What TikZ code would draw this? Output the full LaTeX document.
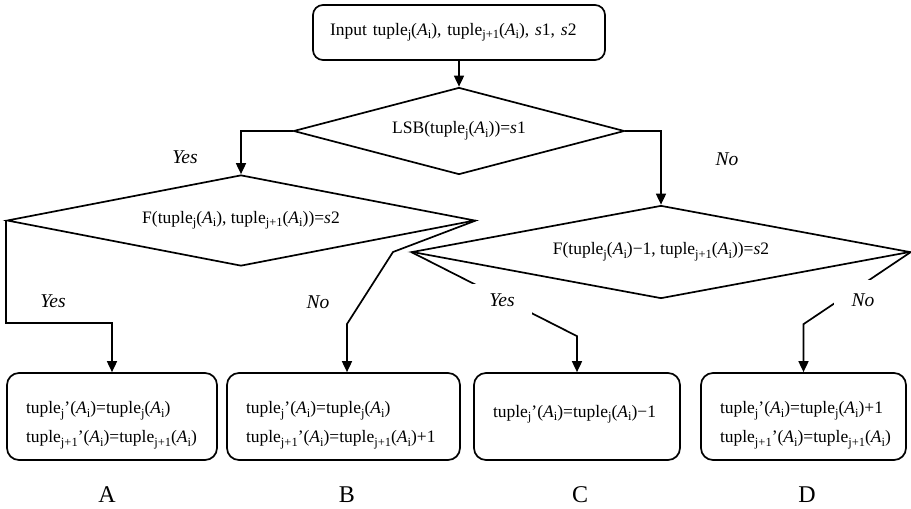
\documentclass[tikz,border=0pt]{standalone}
\usepackage{fontspec}
\setmainfont{Liberation Serif}
\usetikzlibrary{shapes.geometric,arrows.meta}

% lowered, smaller index as used in the formulas
\newcommand{\sbs}[1]{\raisebox{-0.2em}{\fontsize{12.5}{13}\selectfont #1}}
\newcommand{\tup}[1]{tuple\sbs{#1}}
\newcommand{\Ai}{(\textit{A}\sbs{i})}
% extra room above the first line of a result box
\newcommand{\topgap}{\rule{0pt}{30pt}}

\begin{document}
\begin{tikzpicture}[x=1pt,y=-1pt,
  every node/.style={font=\fontsize{17.5}{29}\selectfont},
  ln/.style={line width=1.7pt},
  arr/.style={ln,-{Triangle[width=10pt,length=11pt]}},
  rbox/.style={draw,ln,rounded corners=12pt,align=left,inner xsep=19pt,
    minimum height=87pt},
  dec/.style={draw,ln,diamond,shape aspect=6,inner sep=0pt},
  lab/.style={font=\fontsize{19.5}{20}\selectfont\itshape},
  letter/.style={font=\fontsize{24}{26}\selectfont}]
\useasboundingbox (0,0) rectangle (911,509);

% input
\node[draw,ln,rounded corners=10pt,minimum height=55pt,inner xsep=17pt,
  text width=258pt,align=left]
  (in) at (459,32.5) {Input \tup{j}\Ai, \tup{j+1}\Ai, \textit{s}1, \textit{s}2};

% decisions
\node[dec,minimum width=331pt,minimum height=87pt] (d1) at (459,131)
  {LSB(\tup{j}\Ai)=\textit{s}1};
\node[dec,minimum width=468pt,minimum height=91pt] (d2) at (241,220.5)
  {F(\tup{j}\Ai, \tup{j+1}\Ai)=\textit{s}2};
\node[dec,minimum width=498pt,minimum height=93pt] (d3) at (661,252)
  {F(\tup{j}\Ai−1, \tup{j+1}\Ai)=\textit{s}2};

% results
\node[rbox,text width=172pt] (ra) at (112,416.5)
  {\topgap\tup{j}’\Ai=\tup{j}\Ai\\ \tup{j+1}’\Ai=\tup{j+1}\Ai};
\node[rbox,text width=195pt] (rb) at (343.5,416.5)
  {\topgap\tup{j}’\Ai=\tup{j}\Ai\\ \tup{j+1}’\Ai=\tup{j+1}\Ai+1};
\node[rbox,text width=168pt] (rc) at (577,416.5)
  {\topgap\tup{j}’\Ai=\tup{j}\Ai−1\\ \mbox{}};
\node[rbox,text width=167pt] (rd) at (803.5,416.5)
  {\topgap\tup{j}’\Ai=\tup{j}\Ai+1\\ \tup{j+1}’\Ai=\tup{j+1}\Ai};

% bend points
\coordinate (nb1) at (393,252);
\coordinate (nb2) at (347,324);

% connectors
\draw[arr] (in.south) -- (d1.north);
\draw[arr] (d1.west) -| (d2.north);
\draw[arr] (d1.east) -| (d3.north);
\draw[arr] (d2.west) |- ([yshift=49pt]ra.north) -- (ra.north);
\draw[arr] (d2.east) -- (nb1) -- (nb2) -- (nb2 |- rb.north);
\draw[arr] (d3.west) -- ([yshift=36pt]rc.north) -- (rc.north);
\draw[arr] (d3.east) -- ([yshift=48pt]rd.north) -- (rd.north);

% branch labels
\node[lab] (y1) at (185,157) {Yes};
\node[lab] (n1) at (727,159) {No};
\node[lab] (y2) at (53,301) {Yes};
\node[lab] (n2) at (318,302) {No};
\node[lab,fill=white,inner xsep=17pt,inner ysep=10pt] (y3) at (502,300) {Yes};
\node[lab,fill=white,inner xsep=18pt,inner ysep=14pt] (n3) at (863,300) {No};

% case letters
\node[letter] (la) at (107,495) {A};
\node[letter] (lb) at (347,495) {B};
\node[letter] (lc) at (580,495) {C};
\node[letter] (ld) at (807,495) {D};
\end{tikzpicture}
\end{document}
